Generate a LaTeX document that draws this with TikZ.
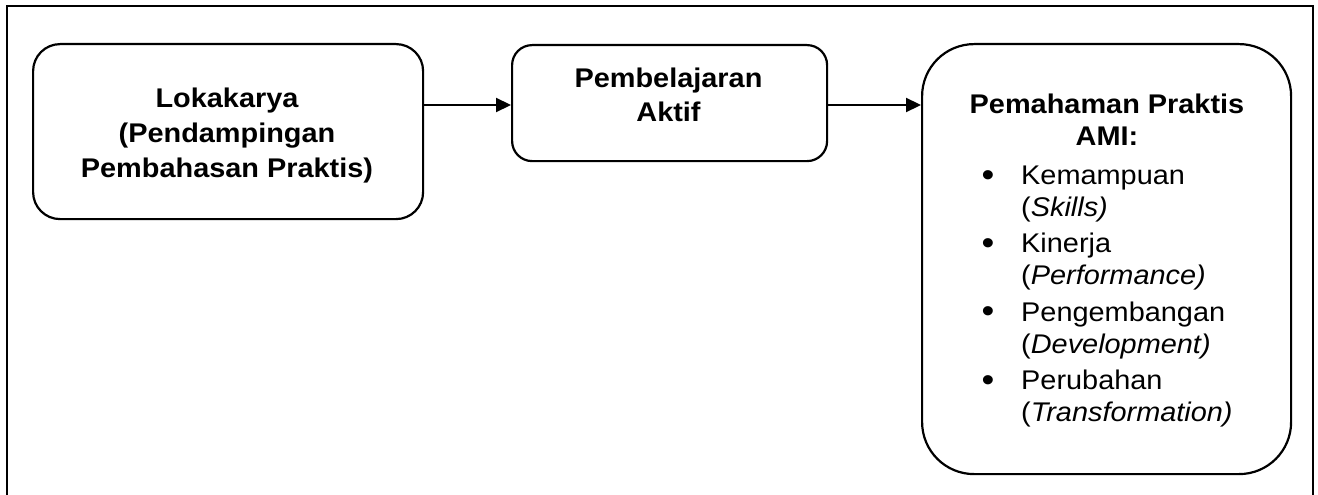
\documentclass[tikz,border=0pt]{standalone}
\usepackage{fontspec}
\setmainfont{Liberation Sans}[FakeStretch=1.07]
\usetikzlibrary{arrows.meta}
\begin{document}
\begin{tikzpicture}[x=1pt,y=-1pt,
  box/.style={draw, line width=2.2pt, rounded corners=#1, inner sep=0pt, anchor=north west},
  hd/.style={font=\fontsize{27}{#1}\selectfont\bfseries, align=center, inner sep=0pt},
  itm/.style={font=\fontsize{27}{32}\selectfont, align=left, inner sep=0pt, anchor=west},
  bul/.style={font=\fontsize{34}{34}\selectfont, inner sep=0pt, anchor=base},
  arr/.style={line width=2.2pt, -{Triangle[length=15pt,width=14pt]}}]
\useasboundingbox (0,0) rectangle (1318,495);
\draw[line width=2.2pt] (7,495) -- (7,6) -- (1313,6) -- (1313,495);
% boxes
\node[box=27pt, minimum width=390pt, minimum height=175pt] (b1) at (32,43) {};
\node[box=20pt, minimum width=315pt, minimum height=116pt] (b2) at (511,44) {};
\node[box=52pt, minimum width=369pt, minimum height=430pt] (b3) at (921,43) {};
\coordinate (ay) at (0,105);
% texts
\node[hd=35] (t1) at (227,135.2) {Lokakarya\\(Pendampingan\\Pembahasan Praktis)};
\node[hd=34] (t2) at (668.5,95) {Pembelajaran\\Aktif};
\node[hd=32] (t3) at (1107,120) {Pemahaman Praktis\\AMI:};
\node[bul] (d1) at (988,186) {•};
\node[bul] (d2) at (988,254) {•};
\node[bul] (d3) at (988,322.7) {•};
\node[bul] (d4) at (988,391) {•};
\node[itm] (i1) at (1021,193.7) {Kemampuan\\(\textit{Skills)}};
\node[itm] (i2) at (1021,261.7) {Kinerja\\(\textit{Performance)}};
\node[itm] (i3) at (1021,330.3) {Pengembangan\\(\textit{Development)}};
\node[itm] (i4) at (1021,398.6) {Perubahan\\(\textit{Transformation)}};
% arrows
\draw[arr] (b1.east |- ay) -- (b2.west |- ay);
\draw[arr] (b2.east |- ay) -- (b3.west |- ay);
\end{tikzpicture}
\end{document}
